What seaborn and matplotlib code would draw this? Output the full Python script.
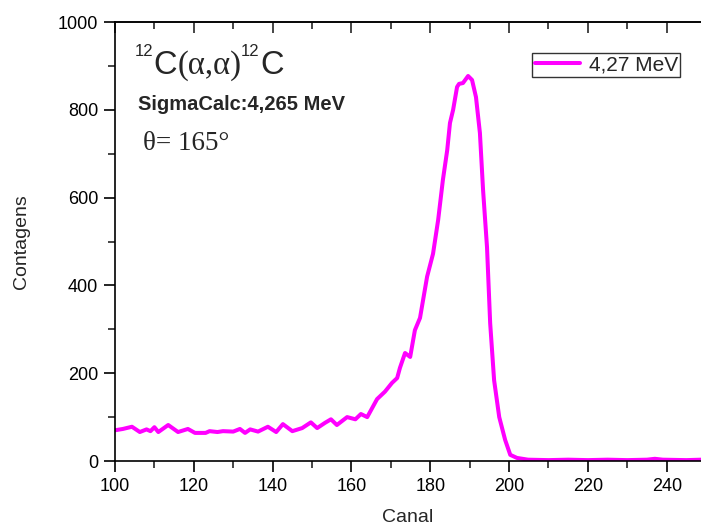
import matplotlib
matplotlib.use("Agg")
import matplotlib.pyplot as plt
import seaborn as sns
import pandas as pd
from matplotlib.ticker import MultipleLocator

canal = [100, 102, 104.3, 106.3, 108, 109, 110, 111, 113.5, 116, 118.5, 120.3, 123, 124, 126,
         127.4, 130, 131.7, 133, 134.3, 136.3, 138.8, 140.9, 142.6, 145, 147.5, 149.7, 151.3,
         153.3, 154.8, 156.3, 158.9, 161, 162.4, 164, 166.5, 168.5, 170.3, 171.6, 172.3, 173.6,
         174.9, 176.1, 177.4, 179.2, 180.7, 182, 183.2, 184.3, 185, 185.8, 186.8, 187.3, 188.3,
         189.6, 190.6, 191.6, 192.6, 193.4, 194.4, 195.2, 196.2, 197.5, 199, 200.3, 202, 204.8,
         210, 215, 220, 225, 230, 235, 237, 239, 245, 248.7]
contagens = [70, 73, 78, 66, 72, 68, 77, 66, 82, 66, 73, 64, 64, 68, 66,
             68, 67, 73, 64, 72, 67, 78, 66, 84, 68, 75, 88, 75,
             87, 95, 82, 100, 95, 107, 100, 141, 158, 178, 189, 212, 246,
             237, 298, 326, 420, 472, 549, 640, 708, 770, 800, 852, 859, 861,
             877, 868, 829, 747, 617, 487, 314, 184, 100, 48, 14, 7, 3,
             2, 3, 2, 3, 2, 3, 5, 3, 2, 3]
serie = "4,27 MeV"
xticks = [100, 120, 140, 160, 180, 200, 220, 240]
yticks = [0, 200, 400, 600, 800, 1000]

sns.set_theme(style="ticks")
plt.rcParams['font.family'] = ['Liberation Sans', 'DejaVu Sans']

df = pd.DataFrame({"Canal": canal, "Contagens": contagens, "serie": serie})

W, H = 701, 528
fig = plt.figure(figsize=(W / 100, H / 100), dpi=100)
ax = fig.add_axes([115/W, 67/H, 586/W, 439/H])
sns.lineplot(data=df, x="Canal", y="Contagens", hue="serie", palette=["#ff00ff"],
             linewidth=2.9, ax=ax, legend=True)
for ln in ax.get_lines():
    ln.set_solid_joinstyle("round")
    ln.set_solid_capstyle("round")

ax.set_xlim(100, 248.7)
ax.set_ylim(0, 1000)
ax.set_xticks(xticks)
ax.set_yticks(yticks)
ax.xaxis.set_minor_locator(MultipleLocator(10))
ax.yaxis.set_minor_locator(MultipleLocator(100))
ax.tick_params(axis='both', which='major', direction='out', length=8, width=1.2,
               labelsize=13, colors='black', pad=4)
ax.tick_params(axis='both', which='minor', direction='out', length=5, width=1.2)
ax.spines['right'].set_visible(False)
for s in ['left', 'bottom', 'top']:
    ax.spines[s].set_linewidth(1.2)
    ax.spines[s].set_color('black')

sec = ax.secondary_xaxis('top')
sec.set_xticks(xticks)
sec.xaxis.set_minor_locator(MultipleLocator(10))
sec.tick_params(which='major', direction='in', length=8, width=1.2, labeltop=False)
sec.tick_params(which='minor', direction='in', length=5, width=1.2)
sec.spines['top'].set_linewidth(1.2)

ax.set_xlabel("Canal", fontsize=14, labelpad=10)
ax.set_ylabel("Contagens", fontsize=14, labelpad=20)

# Title built from pieces: 12C(α,α)12C
sans = ['Liberation Sans', 'DejaVu Sans']
serif = ['Liberation Serif', 'DejaVu Serif']
base_main = H - 74
base_sup = H - 56
pieces = [("12", sans, 12, base_sup), ("C", sans, 23.5, base_main),
          ("(α,α)", serif, 23.5, base_main), ("12", sans, 12, base_sup),
          ("C", sans, 23.5, base_main)]
prev = None
for txt, fam, fs, yb in pieces:
    if prev is None:
        prev = ax.annotate(txt, xy=(135, yb), xycoords='figure pixels', fontsize=fs,
                           family=fam, ha='left', va='baseline')
    else:
        prev = ax.annotate(txt, xy=(1, yb), xycoords=(prev, 'figure pixels'), fontsize=fs,
                           family=fam, ha='left', va='baseline')

ax.text(0.039, 0.80, "SigmaCalc:4,265 MeV", transform=ax.transAxes, fontsize=14.5,
        fontweight='bold', va='baseline', ha='left')
ax.text(0.048, 0.708, "θ= 165°", transform=ax.transAxes, fontsize=19.5,
        family=serif, va='baseline', ha='left')

leg = ax.legend(loc='upper left', bbox_to_anchor=(532/W, 1 - 53/H),
                bbox_transform=fig.transFigure, fontsize=15, frameon=True,
                fancybox=False, edgecolor='black', handlelength=2.2, handletextpad=0.4,
                borderpad=0.12, borderaxespad=0)
leg.get_frame().set_linewidth(1.0)
for l in leg.get_lines():
    l.set_linewidth(2.9)

fig.savefig("out.png", dpi=100)
